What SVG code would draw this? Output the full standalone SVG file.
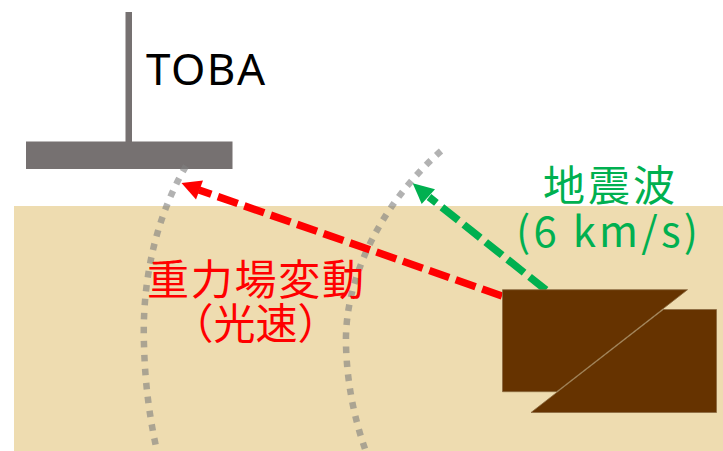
<svg xmlns="http://www.w3.org/2000/svg" width="723" height="451" viewBox="0 0 723 451">
  <style>
    .label { font-family: "Noto Sans CJK JP", "Noto Sans", sans-serif; font-size: 42px; text-anchor: middle; }
    .wave { fill: none; stroke: #7f7f7f; stroke-opacity: 0.6; stroke-width: 6.500; stroke-dasharray: 6.500 7.500; }
    .block { fill: #663300; stroke: #8a6a40; stroke-width: 0.8; }
    .ray { fill: none; stroke-width: 7.500; stroke-dasharray: 21 7; }
  </style>
  <rect id="ground" x="14" y="206" width="709" height="245" fill="#eedcb0"/>
  <g id="toba">
    <rect x="125.500" y="12" width="6.500" height="131" fill="#767171"/>
    <rect x="26" y="141.500" width="206.500" height="27.500" fill="#767171"/>
    <text x="205.500" y="85" font-family="'Noto Sans', sans-serif" font-size="44" text-anchor="middle" textLength="119" lengthAdjust="spacing" fill="#000000">TOBA</text>
  </g>
  <g id="wavefronts">
    <path class="wave" d="M186 166C152 224 142 290 144 345C145 385 150 420 157 451"/>
    <path class="wave" d="M441 151C385 200 344 275 346 345C347 385 355 420 365 449"/>
  </g>
  <g id="connectors">
    <path class="ray" d="M502 296L199 190" stroke="#ff0000"/>
    <path d="M181.500 183L203 180.500L196 199.500Z" fill="#ff0000"/>
    <path class="ray" d="M546 290L429 197" stroke="#00b050"/>
    <path d="M412.700 183.300L435 189.300L421.700 204Z" fill="#00b050"/>
  </g>
  <g id="fault">
    <path class="block" d="M502.500 289.700H687.500L556.500 391.700H502.500Z"/>
    <path class="block" d="M531 412.500L663.500 309.500H716.500V412.500Z"/>
  </g>
  <g id="gravity-label">
    <text class="label" x="255.500" y="295" fill="#ff0000" textLength="217" lengthAdjust="spacing">重力場変動</text>
    <text class="label" x="255.500" y="339" fill="#ff0000">（光速）</text>
  </g>
  <g id="seismic-label">
    <text class="label" x="609" y="201" fill="#00b050" textLength="132" lengthAdjust="spacing">地震波</text>
    <text class="label" x="607" y="247" fill="#00b050" textLength="182" lengthAdjust="spacing">(6 km/s)</text>
  </g>
</svg>
